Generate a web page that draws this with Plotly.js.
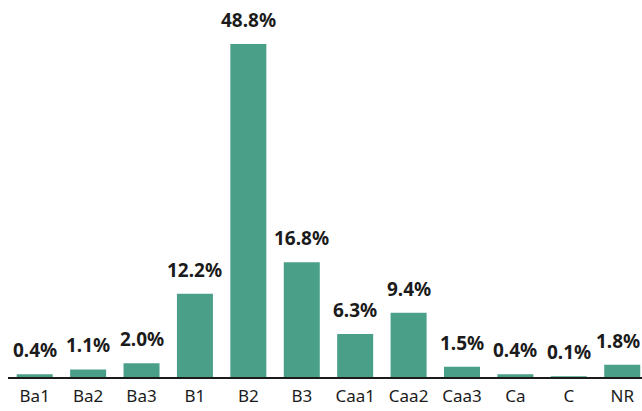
<!DOCTYPE html>
<html>
<head>
<meta charset="utf-8">
<script src="https://cdn.plot.ly/plotly-3.0.1.min.js"></script>
<style>html,body{margin:0;padding:0;background:#fff;}#chart{width:642px;height:411px;}</style>
</head>
<body>
<div id="chart"></div>
<script>
const categories = ["Ba1","Ba2","Ba3","B1","B2","B3","Caa1","Caa2","Caa3","Ca","C","NR"];
const shares = [0.4,1.1,2.0,12.2,48.8,16.8,6.3,9.4,1.5,0.4,0.1,1.8];
const labels = ["0.4%","1.1%","2.0%","12.2%","48.8%","16.8%","6.3%","9.4%","1.5%","0.4%","0.1%","1.8%"];

const barColor = "#4a9f89";
const textColor = "#1b1b1b";

const trace = {
  type: "bar",
  x: categories,
  y: shares,
  marker: {color: barColor, line: {width: 0}},
  hoverinfo: "skip"
};

const annotations = categories.map((c, i) => ({
  x: c, y: shares[i], xref: "x", yref: "y",
  text: "<b>" + labels[i] + "</b>",
  showarrow: false, yanchor: "bottom", yshift: 9,
  xshift: i === categories.length - 1 ? -4 : 0,
  font: {family: "Noto Sans, sans-serif", size: 19, color: textColor}
}));

const layout = {
  width: 642, height: 411,
  margin: {l: 8, r: 0, t: 0, b: 34},
  paper_bgcolor: "#fff", plot_bgcolor: "#fff",
  bargap: 0.326,
  showlegend: false,
  xaxis: {
    type: "category",
    range: [-0.5, 11.37],
    showline: true, linecolor: "#1b1b1b", linewidth: 2,
    ticks: "", showgrid: false, zeroline: false,
    ticklabelstandoff: 3,
    tickfont: {family: "Noto Sans, sans-serif", size: 17, color: textColor},
    fixedrange: true
  },
  yaxis: {
    range: [0, 55.25],
    visible: false, showgrid: false, zeroline: false, fixedrange: true
  },
  annotations: annotations
};

Plotly.newPlot("chart", [trace], layout, {displayModeBar: false, staticPlot: true});
</script>
</body>
</html>
